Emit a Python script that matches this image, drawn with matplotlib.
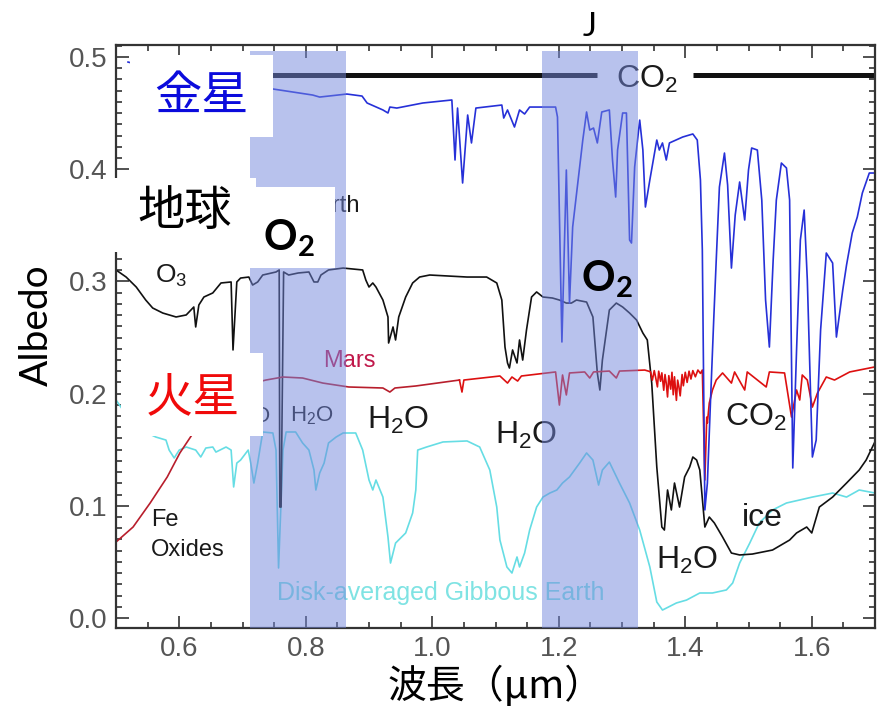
import matplotlib
matplotlib.use("Agg")
import matplotlib.pyplot as plt
from matplotlib import font_manager
from matplotlib.patches import Rectangle
from matplotlib.ticker import MultipleLocator

# ---- data (wavelength in um, albedo) ----
venus_wl = [0.519, 0.633, 0.712, 0.748, 0.811, 0.822, 0.865, 0.889, 0.897, 0.922, 0.930, 0.933,
            0.944, 0.985, 1.031, 1.036, 1.040, 1.048, 1.056, 1.062, 1.069, 1.110, 1.113, 1.119,
            1.130, 1.138, 1.146, 1.154, 1.195, 1.198, 1.205, 1.212, 1.217, 1.222, 1.238, 1.244,
            1.249, 1.255, 1.261, 1.268, 1.280, 1.285, 1.290, 1.293, 1.301, 1.307, 1.312, 1.315,
            1.320, 1.328, 1.333, 1.337, 1.344, 1.355, 1.359, 1.364, 1.370, 1.375, 1.396, 1.412,
            1.419, 1.424, 1.427, 1.431, 1.435, 1.440, 1.445, 1.449, 1.454, 1.462, 1.467, 1.473,
            1.479, 1.486, 1.494, 1.500, 1.505, 1.514, 1.521, 1.527, 1.533, 1.539, 1.544, 1.552,
            1.560, 1.565, 1.570, 1.576, 1.582, 1.588, 1.593, 1.601, 1.607, 1.614, 1.623, 1.633,
            1.639, 1.649, 1.655, 1.664, 1.672, 1.680, 1.691, 1.699]
venus_alb = [0.4955, 0.4795, 0.4733, 0.4715, 0.4661, 0.4643, 0.4670, 0.4652, 0.4590, 0.4528, 0.4501, 0.4554,
             0.4545, 0.4590, 0.4617, 0.4082, 0.4545, 0.3877, 0.4483, 0.4234, 0.4545, 0.4572, 0.4456, 0.4528,
             0.4376, 0.4528, 0.4492, 0.4554, 0.4554, 0.4465, 0.2460, 0.3993, 0.2807, 0.3485, 0.4260, 0.4510,
             0.4349, 0.4367, 0.4234, 0.4510, 0.4528, 0.4082, 0.3752, 0.4171, 0.4501, 0.4501, 0.3369, 0.3342,
             0.4020, 0.4438, 0.4171, 0.3663, 0.3904, 0.4260, 0.4171, 0.4234, 0.4082, 0.4234, 0.4287, 0.4314,
             0.4260, 0.3904, 0.3280, 0.0963, 0.1203, 0.1943, 0.2656, 0.3191, 0.3841, 0.4144, 0.3859, 0.3119,
             0.3592, 0.3886, 0.3547, 0.3993, 0.4189, 0.4171, 0.3725, 0.2834, 0.2415, 0.3191, 0.3725, 0.4055,
             0.4011, 0.3725, 0.1337, 0.2389, 0.3369, 0.3636, 0.3012, 0.1435, 0.1586, 0.2567, 0.3253, 0.3164,
             0.2504, 0.2923, 0.3146, 0.3431, 0.3574, 0.3788, 0.3966, 0.3966]

earth_wl = [0.500, 0.516, 0.532, 0.547, 0.558, 0.574, 0.595, 0.611, 0.623, 0.626, 0.631, 0.639,
            0.653, 0.666, 0.682, 0.685, 0.691, 0.697, 0.710, 0.716, 0.724, 0.732, 0.753, 0.758,
            0.759, 0.761, 0.765, 0.773, 0.788, 0.805, 0.813, 0.819, 0.824, 0.836, 0.859, 0.890,
            0.895, 0.900, 0.906, 0.911, 0.922, 0.930, 0.931, 0.938, 0.942, 0.947, 0.958, 0.969,
            0.980, 0.996, 1.055, 1.086, 1.102, 1.110, 1.115, 1.119, 1.122, 1.127, 1.134, 1.138,
            1.143, 1.149, 1.157, 1.165, 1.175, 1.190, 1.201, 1.212, 1.220, 1.228, 1.244, 1.254,
            1.261, 1.265, 1.269, 1.280, 1.291, 1.301, 1.312, 1.323, 1.333, 1.340, 1.347, 1.355,
            1.363, 1.367, 1.372, 1.378, 1.383, 1.391, 1.399, 1.407, 1.412, 1.418, 1.423, 1.431,
            1.438, 1.446, 1.459, 1.473, 1.486, 1.506, 1.538, 1.565, 1.576, 1.592, 1.600, 1.612,
            1.633, 1.655, 1.675, 1.686, 1.699]
earth_alb = [0.3102, 0.3039, 0.2950, 0.2834, 0.2763, 0.2718, 0.2683, 0.2701, 0.2772, 0.2594, 0.2790, 0.2861,
             0.2897, 0.2986, 0.2995, 0.2389, 0.2995, 0.3030, 0.3039, 0.2968, 0.2995, 0.3057, 0.3084, 0.3102,
             0.0989, 0.0989, 0.3084, 0.3057, 0.3075, 0.3084, 0.2995, 0.2995, 0.3057, 0.3102, 0.3119, 0.3102,
             0.3012, 0.2950, 0.2986, 0.2950, 0.2834, 0.2683, 0.2451, 0.2594, 0.2478, 0.2683, 0.2861, 0.2986,
             0.3039, 0.3057, 0.3039, 0.3039, 0.2986, 0.2834, 0.2415, 0.2273, 0.2228, 0.2389, 0.2273, 0.2478,
             0.2299, 0.2567, 0.2861, 0.2906, 0.2861, 0.2852, 0.2834, 0.2807, 0.2807, 0.2834, 0.2816, 0.2683,
             0.2184, 0.2032, 0.2299, 0.2745, 0.2807, 0.2772, 0.2718, 0.2656, 0.2540, 0.2478, 0.2094, 0.1346,
             0.0811, 0.0784, 0.1141, 0.0963, 0.1203, 0.0989, 0.1257, 0.1346, 0.1435, 0.1408, 0.1319, 0.0811,
             0.0900, 0.0847, 0.0722, 0.0579, 0.0562, 0.0570, 0.0606, 0.0695, 0.0758, 0.0811, 0.0758, 0.0989,
             0.1078, 0.1203, 0.1319, 0.1408, 0.1560]

mars_wl = [0.500, 0.527, 0.554, 0.581, 0.601, 0.622, 0.649, 0.680, 0.712, 0.737, 0.764, 0.795,
           0.827, 0.868, 0.922, 0.933, 0.941, 0.974, 1.043, 1.047, 1.050, 1.107, 1.119, 1.126,
           1.135, 1.141, 1.195, 1.201, 1.206, 1.212, 1.217, 1.241, 1.249, 1.255, 1.280, 1.291,
           1.296, 1.336, 1.345, 1.348, 1.351, 1.353, 1.356, 1.358, 1.361, 1.363, 1.366, 1.368,
           1.370, 1.372, 1.374, 1.377, 1.379, 1.381, 1.383, 1.386, 1.388, 1.390, 1.392, 1.395,
           1.397, 1.400, 1.403, 1.406, 1.409, 1.412, 1.416, 1.420, 1.424, 1.427, 1.431, 1.434,
           1.435, 1.438, 1.443, 1.449, 1.459, 1.473, 1.478, 1.494, 1.498, 1.528, 1.533, 1.557,
           1.568, 1.576, 1.581, 1.585, 1.593, 1.601, 1.609, 1.623, 1.636, 1.660, 1.699]
mars_alb = [0.0677, 0.0811, 0.1025, 0.1257, 0.1471, 0.1649, 0.1836, 0.1988, 0.2086, 0.2121, 0.2148, 0.2139,
            0.2094, 0.2059, 0.2050, 0.2014, 0.2050, 0.2068, 0.2121, 0.2014, 0.2121, 0.2157, 0.2094, 0.2148,
            0.2112, 0.2157, 0.2193, 0.1898, 0.2166, 0.1988, 0.2184, 0.2193, 0.2139, 0.2193, 0.2201, 0.2139,
            0.2201, 0.2210, 0.2195, 0.2120, 0.2205, 0.2150, 0.2060, 0.2200, 0.2110, 0.2185, 0.2030, 0.2170,
            0.2090, 0.1970, 0.2160, 0.2040, 0.2190, 0.1990, 0.2150, 0.1940, 0.2120, 0.2060, 0.1980, 0.2170,
            0.2070, 0.2190, 0.2100, 0.2200, 0.2130, 0.2205, 0.2150, 0.2210, 0.2180, 0.2210, 0.1230, 0.1791,
            0.1738, 0.1916, 0.2032, 0.2121, 0.2184, 0.2094, 0.2193, 0.2032, 0.2193, 0.2059, 0.2193, 0.2184,
            0.1791, 0.2032, 0.1943, 0.2166, 0.2121, 0.1880, 0.2005, 0.2148, 0.2121, 0.2193, 0.2237]

gibbous_wl = [0.500, 0.522, 0.546, 0.563, 0.579, 0.584, 0.592, 0.600, 0.611, 0.626, 0.634, 0.642,
              0.653, 0.658, 0.674, 0.682, 0.686, 0.691, 0.697, 0.709, 0.713, 0.718, 0.724, 0.732,
              0.748, 0.753, 0.757, 0.764, 0.769, 0.784, 0.795, 0.805, 0.813, 0.816, 0.822, 0.829,
              0.836, 0.848, 0.859, 0.879, 0.890, 0.900, 0.906, 0.911, 0.922, 0.930, 0.934, 0.942,
              0.958, 0.969, 0.974, 0.977, 0.991, 1.017, 1.055, 1.075, 1.091, 1.102, 1.107, 1.118,
              1.126, 1.134, 1.138, 1.146, 1.154, 1.165, 1.175, 1.186, 1.197, 1.206, 1.217, 1.233,
              1.244, 1.254, 1.263, 1.269, 1.280, 1.296, 1.312, 1.328, 1.344, 1.355, 1.364, 1.386,
              1.402, 1.423, 1.443, 1.465, 1.475, 1.486, 1.502, 1.517, 1.538, 1.560, 1.581, 1.601,
              1.633, 1.655, 1.675, 1.700]
gibbous_alb = [0.1943, 0.1765, 0.1658, 0.1613, 0.1586, 0.1497, 0.1426, 0.1497, 0.1524, 0.1497, 0.1435, 0.1515,
               0.1524, 0.1479, 0.1524, 0.1497, 0.1168, 0.1381, 0.1408, 0.1497, 0.1381, 0.1203, 0.1381, 0.1658,
               0.1649, 0.1497, 0.0446, 0.1497, 0.1658, 0.1658, 0.1560, 0.1497, 0.1319, 0.1141, 0.1292, 0.1381,
               0.1560, 0.1613, 0.1649, 0.1649, 0.1497, 0.1230, 0.1141, 0.1230, 0.1078, 0.0722, 0.0490, 0.0668,
               0.0758, 0.0936, 0.1141, 0.1497, 0.1524, 0.1569, 0.1578, 0.1524, 0.1319, 0.0989, 0.0695, 0.0455,
               0.0401, 0.0544, 0.0455, 0.0579, 0.0784, 0.0989, 0.1078, 0.1114, 0.1141, 0.1203, 0.1257, 0.1381,
               0.1471, 0.1408, 0.1185, 0.1319, 0.1390, 0.1203, 0.1025, 0.0784, 0.0455, 0.0143, 0.0071, 0.0134,
               0.0160, 0.0223, 0.0223, 0.0250, 0.0312, 0.0490, 0.0668, 0.0847, 0.0963, 0.1025, 0.1052, 0.1078,
               0.1114, 0.1078, 0.1141, 0.1114]

o2_bands = [(0.712, 0.863), (1.173, 1.325)]
co2_bar = [(0.74, 1.260), (1.412, 1.70)]
co2_bar_level = 0.4844

x_ticks = [0.6, 0.8, 1.0, 1.2, 1.4, 1.6]
y_ticks = [0.0, 0.1, 0.2, 0.3, 0.4, 0.5]

# ---- fonts ----
names = {f.name for f in font_manager.fontManager.ttflist}
tick_font = 'Liberation Sans Narrow' if 'Liberation Sans Narrow' in names else 'Liberation Sans'
plot_font = ['Liberation Sans', 'DejaVu Sans']
cjk_font = ['Noto Sans CJK JP', 'DejaVu Sans']
label_font = ['Lato', 'DejaVu Sans']
plt.rcParams['mathtext.default'] = 'regular'

W, H = 877, 707
fig = plt.figure(figsize=(W / 100, H / 100), dpi=100)
ax = fig.add_axes([116 / W, 1 - 628 / H, 759 / W, 583 / H])


def fx(px):
    return px / W


def fy(py):
    return 1 - py / H


# spectra (Mars: darker red in the visible, bright red in the near-IR)
split = next(i for i, w in enumerate(mars_wl) if w > 1.0)
ax.plot(gibbous_wl, gibbous_alb, color='#66dde4', lw=1.2, zorder=2)
ax.plot(earth_wl, earth_alb, color='#111111', lw=1.2, zorder=2.1)
ax.plot(mars_wl[:split + 1], mars_alb[:split + 1], color='#b81e2c', lw=1.2, zorder=2.2)
ax.plot(mars_wl[split:], mars_alb[split:], color='#dd1010', lw=1.2, zorder=2.2)
ax.plot(venus_wl, venus_alb, color='#2630d8', lw=1.2, zorder=2.3)

for x0, x1 in co2_bar:
    ax.plot([x0, x1], [co2_bar_level, co2_bar_level], color='#111111', lw=3.6,
            solid_capstyle='butt', zorder=2.4)

# original figure annotations (below the O2 bands)
lab = dict(family=plot_font, color='#1a1a1a', zorder=2.5)
ax.text(0.5616, 0.3048, 'O$_3$', fontsize=19, ha='left', va='center', **lab)
ax.text(0.8856, 0.3672, 'Earth', fontsize=17, ha='right', va='center', **lab)
ax.text(0.8697, 0.2291, 'Mars', fontsize=17, ha='center', va='center',
        family=plot_font, color='#c0184a', zorder=2.5)
ax.text(0.7433, 0.1800, 'O', fontsize=16, ha='right', va='center', **lab)
ax.text(0.8096, 0.1800, 'H$_2$O', fontsize=16, ha='center', va='center', **lab)
ax.text(0.9455, 0.1760, 'H$_2$O', fontsize=23, ha='center', va='center', **lab)
ax.text(1.1477, 0.1625, 'H$_2$O', fontsize=23, ha='center', va='center', **lab)
ax.text(1.4036, 0.0510, 'H$_2$O', fontsize=23, ha='center', va='center', **lab)
ax.text(1.5110, 0.1790, 'CO$_2$', fontsize=23, ha='center', va='center', **lab)
ax.text(1.3390, 0.4800, 'CO$_2$', fontsize=23, ha='center', va='center', **lab)
ax.text(1.5220, 0.0891, 'ice', fontsize=23, ha='center', va='center', **lab)
ax.text(0.5553, 0.0873, 'Fe', fontsize=17, ha='left', va='center', **lab)
ax.text(0.5553, 0.0606, 'Oxides', fontsize=17, ha='left', va='center', **lab)
ax.text(1.0134, 0.0223, 'Disk-averaged Gibbous Earth', fontsize=18, ha='center', va='center',
        family=plot_font, color='#7fe3e3', zorder=2.5)

# O2 bands
for x0, x1 in o2_bands:
    ax.axvspan(x0, x1, ymin=0, ymax=0.99, color='#7387dd', alpha=0.5, lw=0, zorder=3)

ax.set_xlim(0.5, 1.7)
ax.set_ylim(-0.0089, 0.5107)
ax.set_xticks(x_ticks)
ax.set_yticks(y_ticks)
ax.set_xticklabels([f'{v:.1f}' for v in x_ticks])
ax.set_yticklabels([f'{v:.1f}' for v in y_ticks])
ax.xaxis.set_minor_locator(MultipleLocator(0.05))
ax.yaxis.set_minor_locator(MultipleLocator(0.01))
ax.tick_params(which='both', direction='in', top=True, right=True, color='#333333', width=1.2)
ax.tick_params(which='major', length=9, labelsize=20, labelcolor='#555555', pad=6)
ax.tick_params(which='minor', length=4.5)
for t in ax.get_xticklabels() + ax.get_yticklabels():
    t.set_family(tick_font)
for s in ax.spines.values():
    s.set_color('#333333')
    s.set_linewidth(1.6)

ax.set_xlabel('波長（μm）', family=cjk_font, fontsize=28, va='center')
ax.xaxis.set_label_coords(0.5, (628 - 686) / 583)
ax.set_ylabel('Albedo', family=label_font, fontsize=28, va='center')
ax.yaxis.set_label_coords((37 - 116) / 759, (628 - 325) / 583)

# white label boxes pasted over the figure
boxes = [(130, 55, 273, 137), (110, 178, 256, 252), (250, 187, 335, 268), (121, 353, 263, 436)]
for x0, y0, x1, y1 in boxes:
    fig.add_artist(Rectangle((fx(x0), fy(y1)), fx(x1) - fx(x0), fy(y0) - fy(y1),
                             transform=fig.transFigure, facecolor='white', edgecolor='none', zorder=5))

fig.text(fx(201), fy(97), '金星', family=cjk_font, fontsize=34, color='#0b0bdc',
         ha='center', va='center', zorder=6)
fig.text(fx(185), fy(212), '地球', family=cjk_font, fontsize=34, color='black',
         ha='center', va='center', zorder=6)
fig.text(fx(193), fy(398), '火星', family=cjk_font, fontsize=34, color='#f00a0a',
         ha='center', va='center', zorder=6)
fig.text(fx(289), fy(238), 'O$_2$', family=label_font, fontsize=30, fontweight='bold',
         color='black', ha='center', va='center', zorder=6)
fig.text(fx(607), fy(279), 'O$_2$', family=label_font, fontsize=30, fontweight='bold',
         color='black', ha='center', va='center', zorder=6)
fig.text(fx(590), fy(27), 'J', family=label_font, fontsize=24, color='black',
         ha='center', va='center', zorder=6)

fig.savefig('out.png', dpi=100, facecolor='white')
